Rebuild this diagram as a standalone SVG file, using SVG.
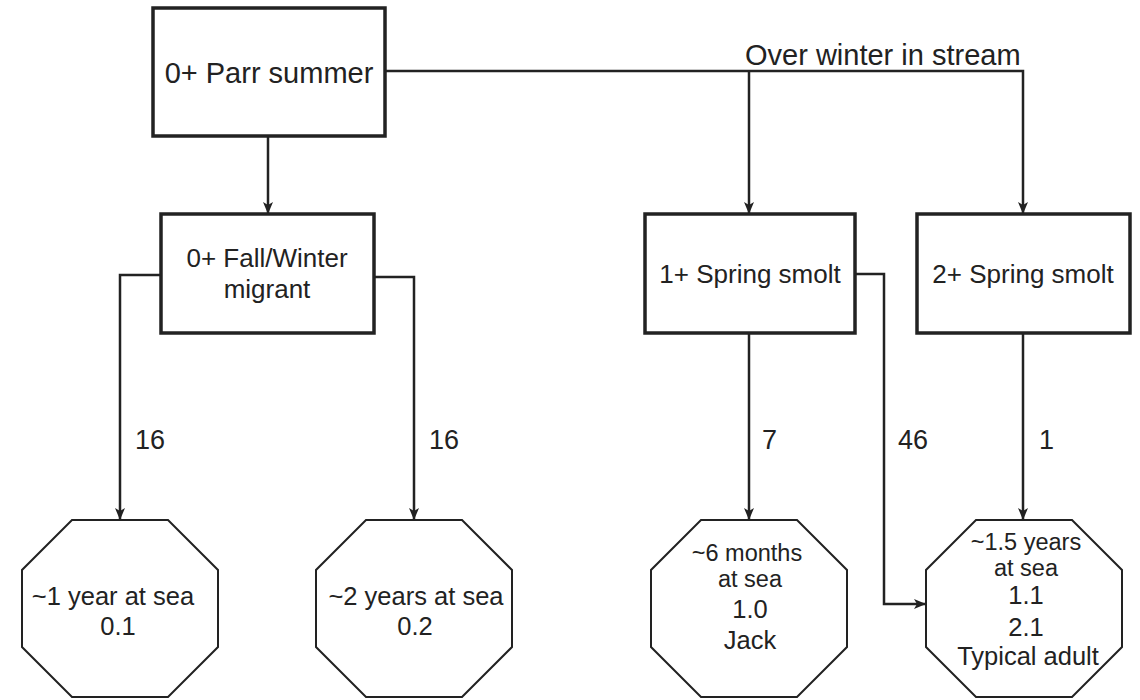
<svg xmlns="http://www.w3.org/2000/svg" width="1140" height="700" viewBox="0 0 1140 700">
<style>
text{font-family:"Liberation Sans",Arial,sans-serif;fill:#222;text-anchor:middle}
.box{fill:#fff;stroke:#222;stroke-width:3.5}
.oct{fill:#fff;stroke:#222;stroke-width:2}
.con{fill:none;stroke:#222;stroke-width:2.5}
.lbl{text-anchor:start;font-size:27px}
.bt{font-size:26px}
.ot{font-size:25.5px}
.os{font-size:23.5px}
</style>
<defs>
<marker id="arr" viewBox="0 0 12 12" refX="11" refY="6" markerWidth="12" markerHeight="12" markerUnits="userSpaceOnUse" orient="auto">
<path d="M0,1 L12,6 L0,11 L3,6 z" fill="#222"/>
</marker>
</defs>
<g id="connectors">
<polyline class="con" points="385,71 1023,71 1023,213" marker-end="url(#arr)"/>
<line class="con" x1="749" y1="71" x2="749" y2="213" marker-end="url(#arr)"/>
<line class="con" x1="268" y1="136" x2="268" y2="213" marker-end="url(#arr)"/>
<polyline class="con" points="161,275 120,275 120,519" marker-end="url(#arr)"/>
<polyline class="con" points="374,277 414,277 414,519" marker-end="url(#arr)"/>
<line class="con" x1="749" y1="333" x2="749" y2="519" marker-end="url(#arr)"/>
<polyline class="con" points="855,274 884,274 884,604 925,604" marker-end="url(#arr)"/>
<line class="con" x1="1023" y1="333" x2="1023" y2="519" marker-end="url(#arr)"/>
<text class="lbl" x="745" y="65" style="text-anchor:start;font-size:29px">Over winter in stream</text>
<text class="lbl" x="135" y="449">16</text>
<text class="lbl" x="429" y="449">16</text>
<text class="lbl" x="762" y="449">7</text>
<text class="lbl" x="898" y="449">46</text>
<text class="lbl" x="1039" y="449">1</text>
</g>
<g id="parr">
<rect class="box" x="153" y="8" width="232" height="128"/>
<text x="269" y="83" style="font-size:29px">0+ Parr summer</text>
</g>
<g id="fallwinter">
<rect class="box" x="161" y="214" width="213" height="119"/>
<text class="bt" x="267" y="267">0+ Fall/Winter</text>
<text class="bt" x="267" y="298">migrant</text>
</g>
<g id="smolt1">
<rect class="box" x="645" y="214" width="210" height="119"/>
<text class="bt" x="750" y="283">1+ Spring smolt</text>
</g>
<g id="smolt2">
<rect class="box" x="917" y="214" width="213" height="119"/>
<text class="bt" x="1023" y="283">2+ Spring smolt</text>
</g>
<g id="sea1">
<polygon class="oct" points="72,520 168,520 218,570 218,647 168,697 72,697 22,647 22,570"/>
<text class="ot" x="113" y="605">~1 year at sea</text>
<text class="ot" x="118" y="635">0.1</text>
</g>
<g id="sea2">
<polygon class="oct" points="366,520 462,520 512,570 512,647 462,697 366,697 316,647 316,570"/>
<text class="ot" x="416" y="605">~2 years at sea</text>
<text class="ot" x="415" y="635">0.2</text>
</g>
<g id="sea3">
<polygon class="oct" points="701,520 797,520 847,570 847,647 797,697 701,697 651,647 651,570"/>
<text class="os" x="747" y="561">~6 months</text>
<text class="os" x="750" y="587">at sea</text>
<text class="ot" x="750" y="618">1.0</text>
<text class="ot" x="750" y="649">Jack</text>
</g>
<g id="sea4">
<polygon class="oct" points="976,520 1072,520 1122,570 1122,647 1072,697 976,697 926,647 926,570"/>
<text class="os" x="1026" y="550">~1.5 years</text>
<text class="os" x="1026" y="576">at sea</text>
<text class="ot" x="1026" y="604">1.1</text>
<text class="ot" x="1026" y="636">2.1</text>
<text class="ot" x="1028" y="665">Typical adult</text>
</g>
</svg>
